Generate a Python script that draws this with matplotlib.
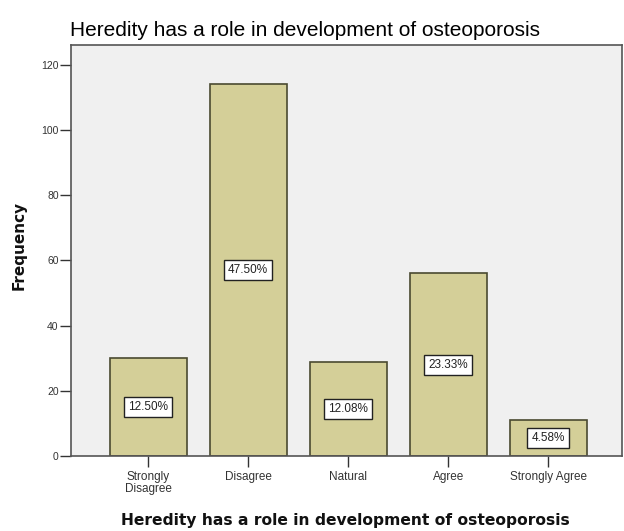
import matplotlib
matplotlib.use("Agg")
import matplotlib.pyplot as plt

categories = ["Strongly\nDisagree", "Disagree", "Natural", "Agree", "Strongly Agree"]
frequencies = [30, 114, 29, 56, 11]
percent_labels = ["12.50%", "47.50%", "12.08%", "23.33%", "4.58%"]
yticks = [0, 20, 40, 60, 80, 100, 120]
title = "Heredity has a role in development of osteoporosis"

plt.rcParams['font.family'] = ['Liberation Sans', 'DejaVu Sans']

fig = plt.figure(figsize=(6.24, 5.31), dpi=100)
ax = fig.add_axes([0.114, 0.141, 0.883, 0.774])
ax.set_facecolor("#F0F0F0")

x = list(range(len(categories)))
ax.bar(x, frequencies, width=0.77, color="#D4CF98", edgecolor="#4a4a30", linewidth=1.2, zorder=2)

for xi, f, lab in zip(x, frequencies, percent_labels):
    ax.text(xi, f / 2, lab, ha="center", va="center", fontsize=8.5, color="#222222",
            bbox=dict(boxstyle="square,pad=0.35", facecolor="white", edgecolor="#222222", linewidth=1.0),
            zorder=3)

ax.set_xlim(-0.77, 4.74)
ax.set_ylim(0, 126)
ax.set_yticks(yticks)
ax.set_yticklabels([str(t) for t in yticks], fontsize=7.5, color="#333333")
ax.set_xticks(x)
ax.set_xticklabels(categories, fontsize=8.5, color="#333333", linespacing=0.95)
ax.tick_params(axis="both", direction="out", length=8, width=1, color="#333333")
ax.tick_params(axis="x", pad=3)
ax.tick_params(axis="y", pad=1)

for side in ["top", "right", "left", "bottom"]:
    ax.spines[side].set_color("#555555")
    ax.spines[side].set_linewidth(1.2)

fig.text(0.030, 0.537, "Frequency", fontsize=11, fontweight="bold", family=["DejaVu Sans"],
         rotation=90, ha="center", va="center", color="#111111")
fig.text(0.554, 0.020, title, fontsize=11.2, fontweight="bold", family=["DejaVu Sans"],
         ha="center", va="center", color="#111111")
fig.text(0.112, 0.943, title, fontsize=15, ha="left", va="center", color="#000000")

fig.savefig("out.png", dpi=100)
